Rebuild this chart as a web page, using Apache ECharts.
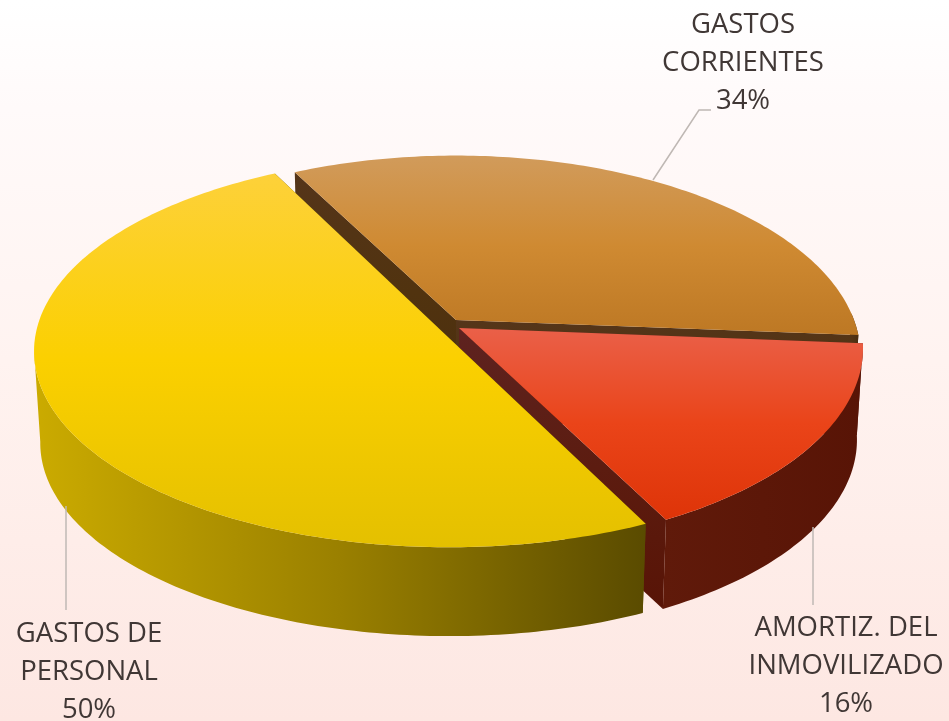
<!DOCTYPE html>
<html>
<head>
    <meta charset="utf-8" />
    <title>Gastos</title>
    <script src="https://cdn.jsdelivr.net/npm/echarts@6/dist/echarts.min.js"></script>
    <style>
        html, body { margin: 0; padding: 0; }
        #chart { width: 949px; height: 721px; }
    </style>
</head>
<body>
    <div id="chart"></div>
    <script type="text/javascript">
        // data
        var categories = ['GASTOS DE\nPERSONAL', 'GASTOS\nCORRIENTES', 'AMORTIZ. DEL\nINMOVILIZADO'];
        var values = [50, 34, 16];

        // layout of the fake 3d pie, same order as categories
        var startAngle = 153;
        var angleShift = [0.5, -1, -1];
        var perspective = [0.068, 0.18, 0.10];
        var depth = 92;
        var bottomScale = 0.985;
        var apexX = [449, 456, 459];
        var apexY = [338, 320, 328];
        var radiusX = [414, 398, 402];
        var radiusY = [195, 194, 198];
        var drawOrder = [1, 2, 0];
        var labelX = [89, 743, 846];
        var labelY = [615, 6, 609];
        var leaderLines = [
            [[66, 506], [66, 610]],
            [[653, 180], [699, 110], [711, 110]],
            [[813, 527], [813, 605]]
        ];

        var topColors = [
            ['#fdd13a', '#fbd000', '#e4c000'],
            ['#d19b5b', '#cf8a32', '#bd7824'],
            ['#ea6049', '#ea4419', '#de3408']
        ];
        var wallColors = [
            ['#cbab00', '#9a8000', '#5a4b00'],
            ['#543415', '#543415', '#4a2e10'],
            ['#601a0a', '#5c1708', '#581406']
        ];
        var radialWallColors = [
            ['#5a4b00', '#5a4b00', '#5a4b00'],
            ['#55351a', '#51330f', '#4a2e10'],
            ['#5e2320', '#5c1c10', '#581406']
        ];

        var total = values.reduce(function (a, b) { return a + b; }, 0);
        var sliceStart = [];
        values.reduce(function (acc, v, i) {
            sliceStart[i] = acc;
            return acc + v / total * 360;
        }, startAngle);

        // angle in degrees, clockwise from the back of the disc
        function project(i, deg, r, low) {
            var a = deg * Math.PI / 180;
            var u = Math.sin(a) * r;
            var v = -Math.cos(a) * r;
            var k = 1 / (1 - perspective[i] * v);
            var dx = radiusX[i] * u * k;
            var dy = radiusY[i] * v * k;
            if (low) {
                return [apexX[i] + dx * bottomScale, apexY[i] + dy * bottomScale + depth];
            }
            return [apexX[i] + dx, apexY[i] + dy];
        }

        function gradient(colors, horizontal) {
            return new echarts.graphic.LinearGradient(0, 0, horizontal ? 1 : 0, horizontal ? 0 : 1, [
                { offset: 0, color: colors[0] },
                { offset: 0.5, color: colors[1] },
                { offset: 1, color: colors[2] }
            ]);
        }

        function renderSlice(params, api) {
            var i = api.value(0);
            var z = drawOrder.indexOf(i) * 10;
            var from = sliceStart[i] + angleShift[i];
            var to = from + api.value(1) / total * 360;
            var topArc = [], wallTop = [], wallLow = [];
            var angles = [];
            for (var d = from; d < to; d += 1) {
                angles.push(d);
            }
            angles.push(to);
            angles.forEach(function (deg) {
                topArc.push(project(i, deg, 1, false));
                // only the part of the rim that faces the viewer
                var n = ((deg % 360) + 360) % 360;
                if (n >= 88 && n <= 267) {
                    wallTop.push(project(i, deg, 1, false));
                    wallLow.unshift(project(i, deg, 1, true));
                }
            });
            var centerTop = project(i, 0, 0, false);
            var centerLow = project(i, 0, 0, true);
            var children = [];
            [from, to].forEach(function (edge, j) {
                children.push({
                    type: 'polygon',
                    z2: z + j,
                    shape: { points: [centerTop, project(i, edge, 1, false), project(i, edge, 1, true), centerLow] },
                    style: { fill: gradient(radialWallColors[i], false) }
                });
            });
            if (wallTop.length > 1) {
                children.push({
                    type: 'polygon',
                    z2: z + 3,
                    shape: { points: wallTop.concat(wallLow) },
                    style: { fill: gradient(wallColors[i], true) }
                });
            }
            children.push({
                type: 'polygon',
                z2: z + 4,
                shape: { points: [centerTop].concat(topArc) },
                style: { fill: gradient(topColors[i], false) }
            });
            children.push({
                type: 'polyline',
                z2: 50,
                shape: { points: leaderLines[i] },
                style: { fill: null, stroke: '#bfb8b4', lineWidth: 1.5 }
            });
            children.push({
                type: 'text',
                z2: 51,
                style: {
                    x: labelX[i],
                    y: labelY[i],
                    text: categories[i] + '\n' + Math.round(api.value(1) / total * 100) + '%',
                    fill: '#403735',
                    font: '27.5px "Open Sans"',
                    lineHeight: 38,
                    align: 'center',
                    verticalAlign: 'top'
                }
            });
            return { type: 'group', children: children };
        }

        var myChart = echarts.init(document.getElementById('chart'));

        myChart.setOption({
            animation: false,
            backgroundColor: new echarts.graphic.LinearGradient(0, 0, 0, 1, [
                { offset: 0, color: '#ffffff' },
                { offset: 0.15, color: '#fffafa' },
                { offset: 0.5, color: '#fff3f0' },
                { offset: 1, color: '#fde7e2' }
            ]),
            series: [{
                type: 'custom',
                coordinateSystem: 'none',
                silent: true,
                renderItem: renderSlice,
                data: values.map(function (v, i) { return [i, v]; })
            }]
        });
    </script>
</body>
</html>
